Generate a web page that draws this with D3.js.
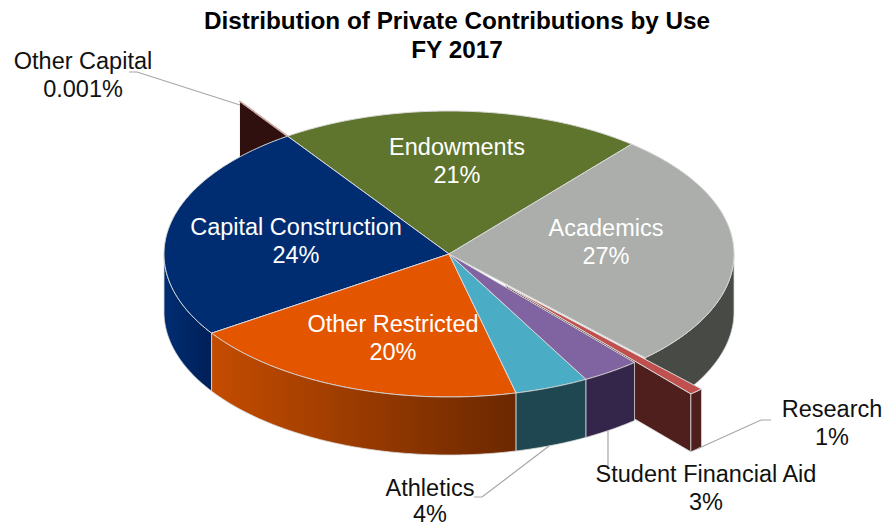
<!DOCTYPE html>
<html><head><meta charset="utf-8">
<script src="https://cdn.jsdelivr.net/npm/d3@7"></script>
<style>html,body{margin:0;padding:0;background:#fff}svg{display:block}text{font-family:"Liberation Sans",Arial,sans-serif}</style>
</head><body><svg id="c" width="884" height="527"></svg>
<script>
const categories=["Other Capital","Endowments","Academics","Research","Student Financial Aid","Athletics","Other Restricted","Capital Construction"];
const values=[0.001,20.65,26.85,0.8,3.3,4.2,19.45,24.75];
const pctLabels=["0.001%","21%","27%","1%","3%","4%","20%","24%"];
const topColors=["#c9a9a6","#5f752e","#abaeaa","#c0504d","#8064a2","#4bacc6","#e45500","#002d72"];
const wallColors=["#2f100e","#3d4a1d","#484a46","#4f1f1e","#33264a","#1f4752","#9a3b00","#002462"];
const cx=449,cy=254,rx=285,ry=143,depth=58,explodeK=0.295;
const exploded=new Set(["Other Capital","Research"]);
const svg=d3.select("#c");
const TAU=Math.PI*2;
const startDeg=325.5;
const pie=d3.pie().sort(null).startAngle(startDeg/360*TAU).endAngle(startDeg/360*TAU+TAU);
const arcs=pie(values).map((d,i)=>{
  const mid=(d.startAngle+d.endAngle)/2, k=exploded.has(categories[i])?explodeK:0;
  return {i,name:categories[i],a0:d.startAngle,a1:d.endAngle,ox:rx*k*Math.sin(mid),oy:-ry*k*Math.cos(mid)};
});
const by=n=>arcs.find(a=>a.name===n);
const pt=(s,a,dz=0,r=1)=>[cx+s.ox+rx*r*Math.sin(a),cy+s.oy-ry*r*Math.cos(a)+dz];
const lineGen=d3.line();
const arcPts=(s,a0,a1,dz=0)=>{const n=Math.max(2,Math.ceil(Math.abs(a1-a0)/0.01));return d3.range(n+1).map(j=>pt(s,a0+(a1-a0)*j/n,dz));};
const defs=svg.append("defs");
function grad(id,x1,x2,stops){
  const g=defs.append("linearGradient").attr("id",id).attr("gradientUnits","userSpaceOnUse").attr("x1",x1).attr("x2",x2).attr("y1",0).attr("y2",0);
  stops.forEach(([o,c])=>g.append("stop").attr("offset",o).attr("stop-color",c));
}
grad("gOrange",211,517,[[0,"#c44c00"],[1,"#6b2800"]]);
grad("gBlue",164,211,[[0,"#002d72"],[1,"#002058"]]);
const edge="#d9d9d9";
const g=svg.append("g");
function polygon(pts,fill,stroke=edge,sw=0.8){
  g.append("path").attr("d",lineGen(pts)+"Z").attr("fill",fill).attr("stroke",stroke).attr("stroke-width",sw).attr("stroke-linejoin","round");
}
function topSlice(s){
  const c=[cx+s.ox,cy+s.oy];
  polygon([c,...arcPts(s,s.a0,s.a1)],topColors[s.i],edge,1);
}
// the front half of the rim runs from 90° to 270°, one turn on from the pie's start angle
function outerWall(s,fill){
  const a0=Math.max(s.a0,TAU+Math.PI/2),a1=Math.min(s.a1,TAU+Math.PI*1.5);
  polygon([...arcPts(s,a0,a1),...arcPts(s,a1,a0,depth)],fill);
}
function radialWall(s,a,fill,stroke){
  const c=[cx+s.ox,cy+s.oy];
  polygon([c,pt(s,a),pt(s,a,depth),[c[0],c[1]+depth]],fill,stroke||edge);
}
const oc=by("Other Capital"),en=by("Endowments"),ac=by("Academics"),re=by("Research"),sf=by("Student Financial Aid"),at=by("Athletics"),or=by("Other Restricted"),cc=by("Capital Construction");
// back to front
radialWall(oc,oc.a0,wallColors[0],"none");
topSlice(oc);
polygon([[cx+oc.ox,cy+oc.oy],pt(oc,oc.a0)],"none","#c9a9a6",1.6);
outerWall(ac,wallColors[2]);
topSlice(en);topSlice(ac);
radialWall(re,re.a1,wallColors[3]);
outerWall(re,wallColors[3]);
topSlice(re);
outerWall(cc,"url(#gBlue)");
topSlice(cc);
topSlice(or);topSlice(at);topSlice(sf);
outerWall(or,"url(#gOrange)");outerWall(at,wallColors[5]);outerWall(sf,wallColors[4]);
// leader lines
const leaders=[
 {name:"Other Capital",p:[[129,72],[137,72],[240,105]]},
 {name:"Research",p:[[771,420],[761,420],[697,449]]},
 {name:"Student Financial Aid",p:[[608,466],[608,431]]},
 {name:"Athletics",p:[[474,497],[482,497],[549,446]]}
];
leaders.forEach(l=>g.append("path").attr("d",lineGen(l.p)).attr("fill","none").attr("stroke","#a6a6a6").attr("stroke-width",1.2));
// text
const title=["Distribution of Private Contributions by Use","FY 2017"];
svg.selectAll("text.t").data(title).join("text").attr("class","t").attr("x",457).attr("y",(d,i)=>29+i*29)
  .attr("text-anchor","middle").attr("font-size",24.3).attr("font-weight","bold").attr("fill","#000").text(d=>d);
const labelPos=[
 {n:"Other Capital",x:83,y:69,c:"#111",lh:28},
 {n:"Endowments",x:457,y:155,c:"#fff",lh:28},
 {n:"Academics",x:606,y:236,c:"#fff",lh:28},
 {n:"Research",x:832,y:417,c:"#111",lh:28},
 {n:"Student Financial Aid",x:706,y:482,c:"#111",lh:28},
 {n:"Athletics",x:430,y:496,c:"#111",lh:26},
 {n:"Other Restricted",x:393,y:332,c:"#fff",lh:28},
 {n:"Capital Construction",x:296,y:235,c:"#fff",lh:28}
];
labelPos.forEach(l=>{
  const i=categories.indexOf(l.n);
  const t=svg.append("text").attr("text-anchor","middle").attr("font-size",23.5).attr("fill",l.c);
  t.append("tspan").attr("x",l.x).attr("y",l.y).text(l.n);
  t.append("tspan").attr("x",l.x).attr("y",l.y+l.lh).text(pctLabels[i]);
});
</script></body></html>
